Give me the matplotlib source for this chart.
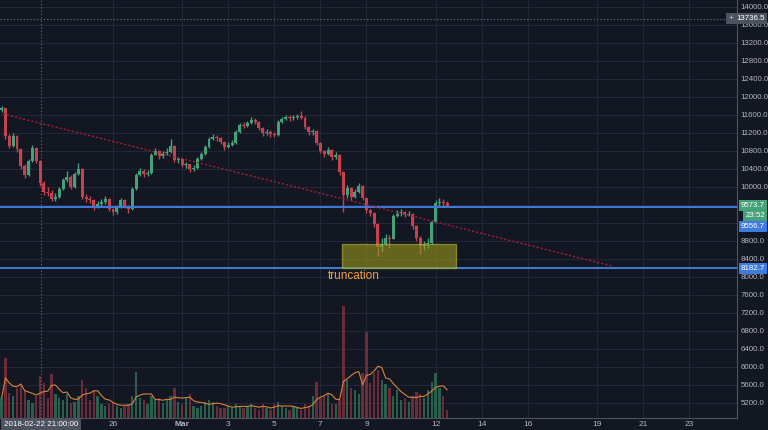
import numpy as np
import pandas as pd
import matplotlib
matplotlib.use('Agg')
import matplotlib.pyplot as plt
import matplotlib.dates as mdates
from matplotlib.patches import Rectangle
from datetime import datetime

plt.rcParams['font.family'] = ['Liberation Sans', 'DejaVu Sans']

# 4-hour candles, 2018-02-21 04:00 .. 2018-03-12 12:00
first_open = 11700
closes = [11749, 11127, 10904, 11127, 10838, 10460, 10260, 10571, 10860, 10571,
          10082, 9882, 9860, 9727, 9771, 9949, 10149, 10216, 9993, 10282,
          10393, 9771, 9727, 9704, 9549, 9616, 9660, 9727, 9504, 9438,
          9549, 9704, 9571, 9504, 9949, 10260, 10349, 10282, 10304, 10704,
          10793, 10682, 10749, 10771, 10904, 10593, 10610, 10482, 10500, 10393,
          10416, 10615, 10727, 10882, 11060, 11104, 11082, 10993, 10882, 10927,
          10971, 11215, 11371, 11349, 11415, 11482, 11438, 11304, 11193, 11215,
          11171, 11149, 11438, 11504, 11549, 11527, 11549, 11570, 11530, 11327,
          11215, 11240, 10971, 10793, 10727, 10815, 10660, 10704, 10327, 9816,
          9971, 9771, 9882, 10016, 9749, 9482, 9416, 9171, 8660, 8727,
          8860, 8840, 9349, 9393, 9438, 9371, 9393, 9127, 8860, 8682,
          8727, 8749, 9216, 9638, 9660, 9638, 9574]
highs = [11800, 11760, 11180, 11200, 11150, 10870, 10500, 10620, 10930, 10890,
         10600, 10120, 9990, 9920, 9850, 9990, 10200, 10350, 10250, 10320,
         10520, 10420, 9830, 9790, 9720, 9680, 9720, 9790, 9760, 9530,
         9600, 9760, 9730, 9600, 9990, 10300, 10420, 10400, 10380, 10760,
         10860, 10820, 10800, 10850, 11050, 10930, 10660, 10620, 10560, 10500,
         10480, 10650, 10780, 10930, 11110, 11180, 11150, 11100, 11020, 10990,
         11030, 11260, 11420, 11430, 11470, 11540, 11530, 11460, 11330, 11280,
         11260, 11220, 11480, 11560, 11600, 11590, 11600, 11620, 11680, 11580,
         11360, 11290, 11260, 11000, 10820, 10880, 10840, 10780, 10730, 10360,
         10040, 10000, 9960, 10080, 10040, 9780, 9510, 9440, 9200, 8850,
         8950, 8930, 9400, 9480, 9500, 9470, 9470, 9420, 9150, 8900,
         8800, 8850, 9260, 9700, 9760, 9720, 9680]
lows = [11650, 11050, 10850, 10880, 10780, 10400, 10200, 10230, 10540, 10520,
        10020, 9820, 9800, 9680, 9690, 9740, 9920, 10100, 9950, 9970,
        10250, 9720, 9650, 9640, 9490, 9520, 9580, 9620, 9450, 9380,
        9400, 9520, 9530, 9420, 9480, 9930, 10230, 10220, 10240, 10280,
        10700, 10620, 10640, 10700, 10740, 10540, 10520, 10430, 10420, 10320,
        10350, 10390, 10590, 10700, 10850, 11030, 11020, 10950, 10820, 10850,
        10900, 10950, 11190, 11300, 11320, 11390, 11400, 11250, 11130, 11150,
        11110, 11100, 11130, 11420, 11480, 11470, 11490, 11500, 11500, 11290,
        11160, 11150, 10920, 10740, 10660, 10700, 10600, 10620, 10260, 9430,
        9760, 9700, 9740, 9860, 9700, 9420, 9360, 9100, 8470, 8560,
        8700, 8640, 8830, 9320, 9360, 9320, 9340, 9060, 8800, 8500,
        8600, 8630, 8720, 9190, 9570, 9560, 9540]
volumes = [1000, 3000, 1250, 1100, 1500, 1650, 1350, 900, 750, 1100,
           2100, 1750, 1000, 2200, 1200, 1000, 900, 1200, 750, 800,
           1100, 1900, 1500, 900, 1400, 1100, 700, 600, 700, 800,
           600, 500, 600, 700, 1100, 2300, 1000, 900, 700, 1100,
           900, 1000, 750, 900, 1100, 1500, 800, 700, 1000, 1200,
           600, 500, 600, 800, 900, 800, 600, 500, 500, 600,
           500, 700, 600, 500, 600, 700, 500, 400, 700, 500,
           400, 700, 800, 600, 500, 400, 600, 500, 400, 700,
           600, 1100, 1800, 1000, 1100, 1200, 700, 700, 900, 5600,
           1900, 1500, 1400, 1200, 2250, 4300, 1750, 2250, 2400, 1900,
           1700, 1500, 1100, 1400, 900, 1000, 800, 1100, 1300, 1200,
           1000, 1400, 1800, 2250, 1500, 1100, 400]

support_top = 9556.7
support_low = 8182.7
last_price = 9573.7
cross_price = 13736.5
box_top, box_bottom = 8727, 8193
trend_start, trend_end = 11616, 8238

tick_days = [datetime(2018, 2, 26), datetime(2018, 3, 1), datetime(2018, 3, 3),
             datetime(2018, 3, 5), datetime(2018, 3, 7), datetime(2018, 3, 9),
             datetime(2018, 3, 12), datetime(2018, 3, 14), datetime(2018, 3, 16),
             datetime(2018, 3, 19), datetime(2018, 3, 21), datetime(2018, 3, 23)]
tick_names = ['26', 'Mar', '3', '5', '7', '9', '12', '14', '16', '19', '21', '23']

bg = '#131722'
grid_c = '#232838'
txt = '#b2b5be'
up_c, down_c = '#46a07a', '#c4434f'
vol_up, vol_down = '#2c6e55', '#7e2f3e'

times = pd.date_range(datetime(2018, 2, 21, 4), periods=len(closes), freq='4h')
t = mdates.date2num(times.to_pydatetime())
o = np.array([first_open] + closes[:-1])
c = np.array(closes)
h = np.array(highs)
l = np.array(lows)
rising = c >= o

fig = plt.figure(figsize=(7.68, 4.3), dpi=100, facecolor=bg)
ax = fig.add_axes([0, 12 / 430, 737 / 768, 418 / 430])
ax.set_facecolor(bg)
axv = ax.twinx()
axv.patch.set_visible(False)

day0 = mdates.date2num(datetime(2018, 2, 21))
ax.set_xlim(day0 + 2.2 / 23.04, day0 + 739.2 / 23.04)
ax.set_ylim(4860, 14149)
axv.set_ylim(0, 20900)

# volume (own scale)
axv.bar(t, volumes, width=0.1, color=np.where(rising, vol_up, vol_down), alpha=0.85)
vol_ma = pd.Series(volumes).rolling(5, min_periods=1).mean()
axv.plot(t, vol_ma, color='#d9823b', lw=0.8)
axv.set_yticks([])
for s in axv.spines.values():
    s.set_visible(False)

# grid
ax.set_yticks(np.arange(5200, 14001, 400))
ax.set_xticks(mdates.date2num(tick_days))
ax.grid(True, color=grid_c, lw=0.8)
ax.set_axisbelow(True)

# candles
colors = np.where(rising, up_c, down_c)
ax.vlines(t, l, h, colors=colors, lw=1.0, zorder=3)
ax.bar(t, np.maximum(np.abs(c - o), 8), bottom=np.minimum(o, c), width=0.13,
       color=colors, zorder=4)

# drawings
ax.axhline(support_top, color='#3d7be0', lw=1.4, zorder=5)
ax.axhline(support_low, color='#3d7be0', lw=1.4, zorder=5)
ax.plot([day0 + 5.4 / 24, day0 + 26.66], [trend_start, trend_end],
        color='#a3203a', lw=1.0, ls=(0, (1.5, 1.5)), zorder=5)
x0 = day0 + 344.2 / 23.04
x1 = day0 + 458.2 / 23.04
ax.add_patch(Rectangle((x0, box_bottom), x1 - x0, box_top - box_bottom,
                       facecolor='#9a9a1c', alpha=0.6, edgecolor='#b8b830',
                       lw=1, zorder=6))
ax.text(day0 + 330.2 / 23.04, 8016, 'truncation', color='#f0a040',
        fontsize=8.5, va='center', ha='left', zorder=7)

# crosshair
cross_t = mdates.date2num(datetime(2018, 2, 22, 21))
ax.axvline(cross_t, color='#6b7080', lw=0.8, ls=(0, (1, 2)), zorder=2)
ax.plot([0, 0.985], [cross_price, cross_price], transform=ax.get_yaxis_transform(),
        color='#6b7080', lw=0.8, ls=(0, (1, 2)), zorder=2)
ax.annotate('+', xy=(0.9915, cross_price), xycoords=('axes fraction', 'data'),
            ha='center', va='center', color='#c8cad0', fontsize=6,
            bbox=dict(boxstyle='square,pad=0.25', fc='#4c525e', ec='none'),
            annotation_clip=False, zorder=8)

# axes styling
ax.yaxis.tick_right()
ax.tick_params(axis='both', length=0, colors=txt)
ax.tick_params(axis='y', pad=2.5, labelsize=5.7)
ax.tick_params(axis='x', pad=2, labelsize=6)
ax.set_xticklabels(tick_names)
ax.get_xticklabels()[1].set_fontweight('bold')
ylabels = []
for v in np.arange(5200, 14001, 400):
    ylabels.append('' if v in (9200, 9600) else f'{v:.1f}')
ax.set_yticklabels(ylabels)
for name in ('top', 'left'):
    ax.spines[name].set_visible(False)
ax.spines['right'].set_color('#4c525e')
ax.spines['bottom'].set_color('#4c525e')


def tag(price, label, fc, dy=0):
    ax.annotate(label, xy=(1, price), xycoords=('axes fraction', 'data'),
                xytext=(28, dy), textcoords='offset pixels', ha='right',
                va='center', color='white', fontsize=5.7,
                bbox=dict(boxstyle='square,pad=0.25', fc=fc, ec='none'),
                annotation_clip=False, zorder=9)


tag(cross_price, '13736.5', '#4c525e')
tag(last_price, '9573.7', '#46a07a')
tag(last_price, '23:52', '#46a07a', dy=-10)
tag(support_top, '9556.7', '#3d7be0', dy=-20)
tag(support_low, '8182.7', '#3d7be0')

ax.annotate('2018-02-22 21:00:00', xy=(cross_t, 0), xycoords=('data', 'axes fraction'),
            xytext=(0, -6), textcoords='offset pixels', ha='center', va='center',
            color='white', fontsize=5.8,
            bbox=dict(boxstyle='square,pad=0.3', fc='#4c525e', ec='none'),
            annotation_clip=False, zorder=9)

fig.savefig('out.png', dpi=100, facecolor=bg)
